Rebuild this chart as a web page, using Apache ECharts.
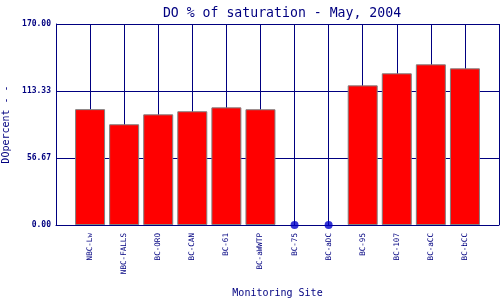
<!DOCTYPE html>
<html>
<head>
<meta charset="utf-8">
<script src="https://cdn.jsdelivr.net/npm/echarts@6/dist/echarts.min.js"></script>
<style>html,body{margin:0;padding:0;background:#fff}#c{width:500px;height:300px}</style>
</head>
<body>
<div id="c"></div>
<script>
const sites = ['NBC-Lw','NBC-FALLS','BC-ORO','BC-CAN','BC-61','BC-aWWTP','BC-75','BC-aDC','BC-95','BC-107','BC-aCC','BC-bCC'];
const doPercent = [98.0, 85.2, 93.6, 96.2, 99.5, 97.9, null, null, 118.1, 128.3, 135.9, 132.5];
const yTicks = [0, 56.67, 113.33, 170];

const navy = '#000080';
const mono = 'DejaVu Sans Mono, Liberation Mono, monospace';

const barData = doPercent.map((v, i) => v == null ? null : [i + 1, v]).filter(d => d);
const missData = doPercent.map((v, i) => v == null ? [i + 1, 0] : null).filter(d => d);

const chart = echarts.init(document.getElementById('c'), null, {renderer: 'canvas'});
chart.setOption({
  animation: false,
  backgroundColor: '#fff',
  title: {
    text: 'DO % of saturation - May, 2004',
    left: 277, textAlign: 'center', top: 2,
    textStyle: {color: navy, fontFamily: mono, fontSize: 13.2, fontWeight: 'normal'}
  },
  grid: {left: 56, right: 1, top: 24, bottom: 75, containLabel: false, outerBoundsMode: 'none'},
  xAxis: {
    type: 'value', min: 0, max: sites.length + 1, interval: 1,
    name: 'Monitoring Site', nameLocation: 'middle', nameGap: 63,
    nameTextStyle: {color: navy, fontFamily: mono, fontSize: 10},
    axisLine: {show: true, lineStyle: {color: navy, width: 1}},
    axisTick: {show: false},
    splitLine: {show: true, lineStyle: {color: navy, width: 1}},
    axisLabel: {
      rotate: 90, margin: 8, color: navy, fontFamily: mono, fontSize: 7.6,
      showMinLabel: true, showMaxLabel: true,
      formatter: v => sites[v - 1] || ''
    }
  },
  yAxis: {
    type: 'value', min: 0, max: 170, interval: 170 / 3,
    name: 'DOpercent - -', nameLocation: 'middle', nameGap: 41,
    nameTextStyle: {color: navy, fontFamily: mono, fontSize: 10},
    axisLine: {show: true, lineStyle: {color: navy, width: 1}},
    axisTick: {show: false},
    splitLine: {show: true, lineStyle: {color: navy, width: 1}},
    axisLabel: {
      margin: 5, color: navy, fontFamily: mono, fontSize: 8, fontWeight: 'bold',
      formatter: v => {
        let best = yTicks[0];
        yTicks.forEach(t => { if (Math.abs(t - v) < Math.abs(best - v)) best = t; });
        return best.toFixed(2);
      }
    }
  },
  series: [
    {
      type: 'bar', data: barData, barWidth: 30,
      itemStyle: {color: '#ff0000', borderColor: '#808080', borderWidth: 1}
    },
    {
      type: 'scatter', data: missData, symbol: 'circle', symbolSize: 8,
      itemStyle: {color: '#0000c8'}, z: 5
    }
  ]
});
</script>
</body>
</html>
